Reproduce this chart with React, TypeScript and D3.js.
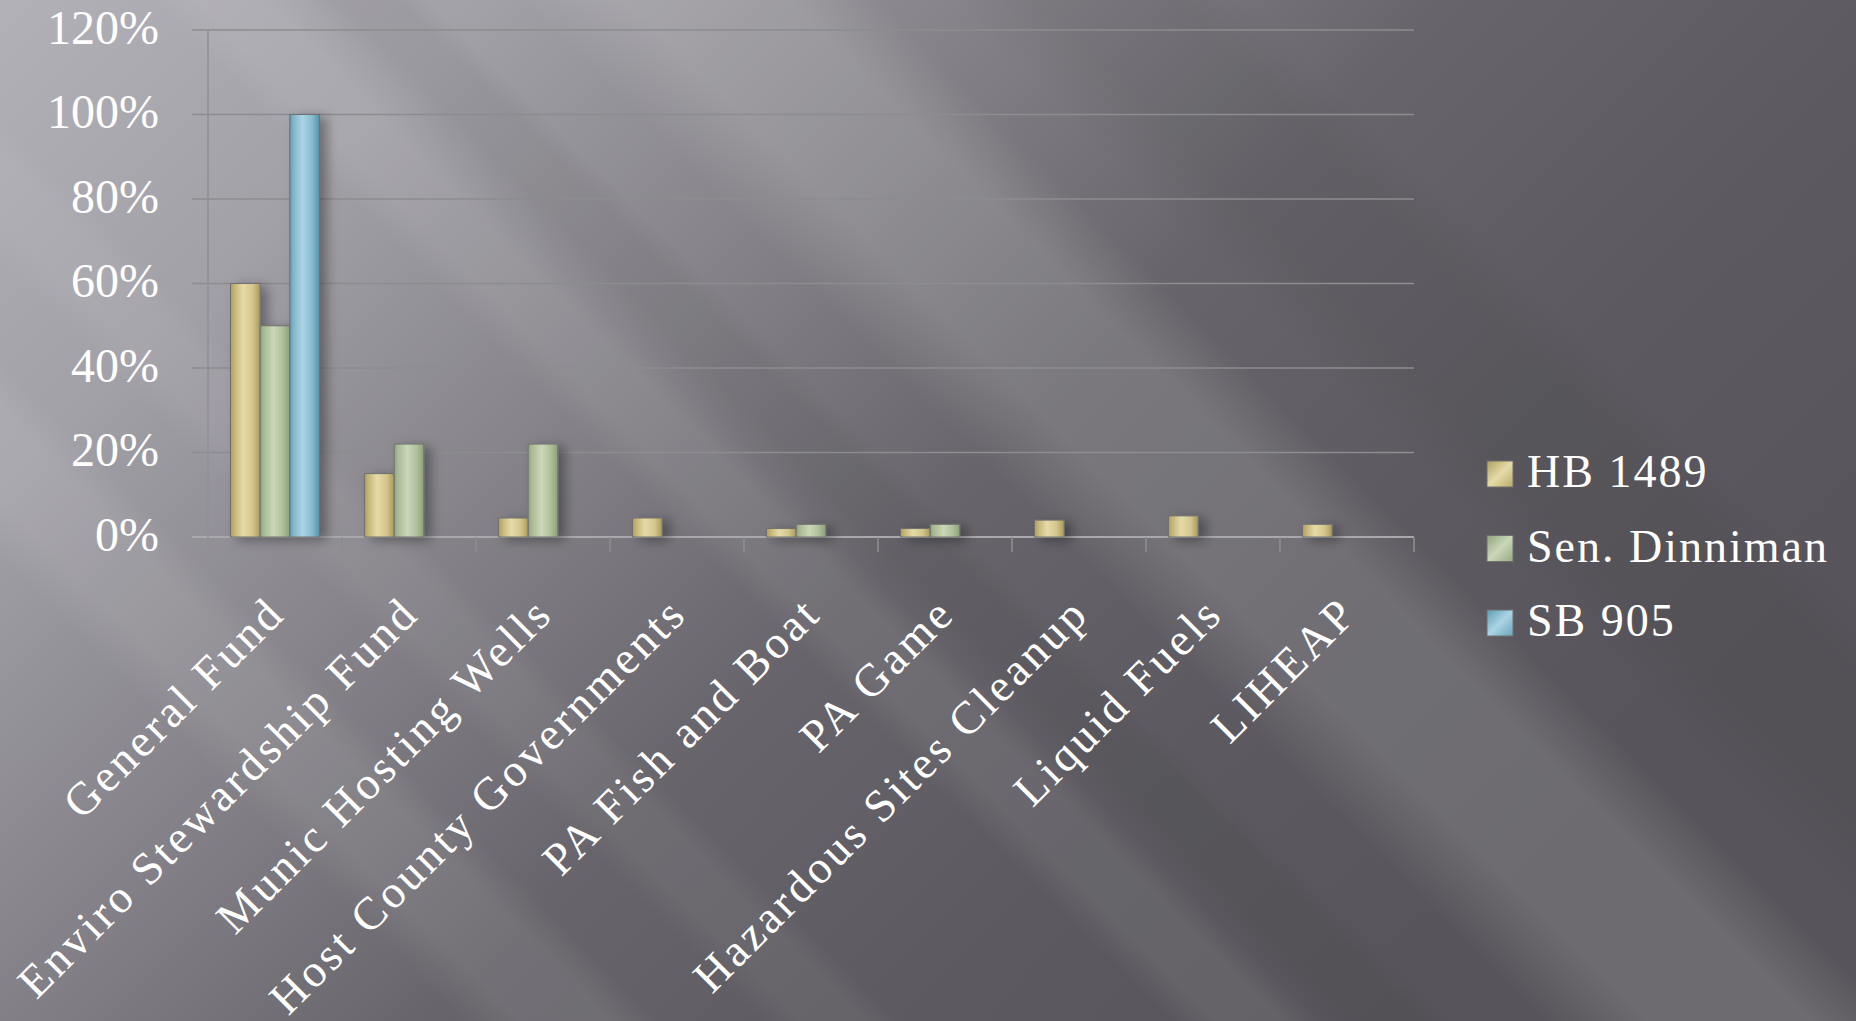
import React from "react";
import * as d3 from "d3";

const categories = [
  "General Fund",
  "Enviro Stewardship Fund",
  "Munic Hosting Wells",
  "Host County Governments",
  "PA Fish and Boat",
  "PA Game",
  "Hazardous Sites Cleanup",
  "Liquid Fuels",
  "LIHEAP",
];
const seriesNames = ["HB 1489", "Sen. Dinniman", "SB 905"];
const hb1489 = [0.6, 0.15, 0.045, 0.045, 0.02, 0.02, 0.04, 0.05, 0.03];
const senDinniman = [0.5, 0.22, 0.22, 0, 0.03, 0.03, 0, 0, 0];
const sb905 = [1.0, 0, 0, 0, 0, 0, 0, 0, 0];
const yTicks = [0, 0.2, 0.4, 0.6, 0.8, 1.0, 1.2];

const seriesValues = [hb1489, senDinniman, sb905];

const W = 1856;
const H = 1021;
const FONT = "'Liberation Serif', 'Times New Roman', serif";

const gradStops: Record<string, [number, string][]> = {
  g0: [[0, "#ad9e5e"], [0.12, "#c3b476"], [0.42, "#e6dba8"], [0.75, "#d3c58c"], [1, "#a99a5a"]],
  g1: [[0, "#8fa47b"], [0.12, "#a8ba94"], [0.45, "#cad7b9"], [0.75, "#b0c19c"], [1, "#8ca177"]],
  g2: [[0, "#5f9bb1"], [0.12, "#80b6ca"], [0.42, "#abd4e4"], [0.75, "#86bcd0"], [1, "#5893aa"]],
};
const legendStops: Record<string, [number, string][]> = {
  l0: [[0, "#ad9e5e"], [0.5, "#e6dba8"], [1, "#b9aa6a"]],
  l1: [[0, "#8fa47b"], [0.5, "#cad7b9"], [1, "#94a980"]],
  l2: [[0, "#5f9bb1"], [0.5, "#abd4e4"], [1, "#6aa4b9"]],
};

// diagonal light bands: [a, b] = x-intercepts at y=0 of the band edges (band runs down-right)
const bands: { a: number; b: number; color: string; op: number }[] = [
  { a: 520, b: 880, color: "#ffffff", op: 0.13 },
  { a: 150, b: 300, color: "#ffffff", op: 0.07 },
  { a: -560, b: -360, color: "#ffffff", op: 0.08 },
  { a: -260, b: -120, color: "#ffffff", op: 0.05 },
  { a: 950, b: 1250, color: "#000000", op: 0.05 },
  { a: 300, b: 430, color: "#000000", op: 0.05 },
];

export default function App() {
  const x0 = d3.scaleBand<string>().domain(categories).range([208, 1414]).padding(0);
  const x1 = d3
    .scaleBand<string>()
    .domain(seriesNames)
    .range([0, x0.bandwidth()])
    .paddingInner(0)
    .paddingOuter(0.76);
  const y = d3.scaleLinear().domain([0, 1.2]).range([537, 30]);
  const fmt = d3.format(".0%");

  return (
    <svg width={W} height={H} style={{ display: "block", position: "absolute", left: 0, top: 0 }}>
      <defs>
        <linearGradient id="bg" x1="0" y1="0" x2="1" y2="0.55">
          <stop offset="0" stopColor="#b3b1b8" />
          <stop offset="0.2" stopColor="#a3a1a8" />
          <stop offset="0.42" stopColor="#838187" />
          <stop offset="0.6" stopColor="#67656b" />
          <stop offset="0.8" stopColor="#5c5a60" />
          <stop offset="1" stopColor="#57555b" />
        </linearGradient>
        {bands.map((bd, i) => {
          const d = bd.b - bd.a;
          return (
            <linearGradient
              key={i}
              id={"band" + i}
              gradientUnits="userSpaceOnUse"
              x1={bd.a}
              y1={0}
              x2={bd.a + d / 2}
              y2={-d / 2}
            >
              <stop offset="0" stopColor={bd.color} stopOpacity={0} />
              <stop offset="0.3" stopColor={bd.color} stopOpacity={bd.op} />
              <stop offset="0.75" stopColor={bd.color} stopOpacity={bd.op} />
              <stop offset="1" stopColor={bd.color} stopOpacity={0} />
            </linearGradient>
          );
        })}
        <filter id="shadow" x="-30%" y="-10%" width="180%" height="130%">
          <feDropShadow dx="7" dy="3" stdDeviation="6" floodColor="#000" floodOpacity="0.35" />
        </filter>
        {Object.entries(gradStops).map(([id, stops]) => (
          <linearGradient key={id} id={id} x1="0" y1="0" x2="1" y2="0">
            {stops.map(([o, c], i) => (
              <stop key={i} offset={o} stopColor={c} />
            ))}
          </linearGradient>
        ))}
        {Object.entries(legendStops).map(([id, stops]) => (
          <linearGradient key={id} id={id} x1="0" y1="0" x2="1" y2="1">
            {stops.map(([o, c], i) => (
              <stop key={i} offset={o} stopColor={c} />
            ))}
          </linearGradient>
        ))}
      </defs>

      <rect x={0} y={0} width={W} height={H} fill="url(#bg)" />
      {bands.map((_, i) => (
        <rect key={i} x={0} y={0} width={W} height={H} fill={`url(#band${i})`} />
      ))}

      {/* gridlines */}
      {yTicks.map((t) => (
        <line
          key={t}
          x1={192}
          x2={1414}
          y1={y(t)}
          y2={y(t)}
          stroke={t === 0 ? "#a9a8ad" : "#8d8c91"}
          strokeWidth={t === 0 ? 2 : 1.6}
        />
      ))}
      {/* y axis */}
      <line x1={208} x2={208} y1={y(1.2)} y2={552} stroke="#929096" strokeWidth={1.6} />
      {/* category ticks */}
      {categories.map((c) => (
        <line
          key={c}
          x1={(x0(c) as number) + x0.bandwidth()}
          x2={(x0(c) as number) + x0.bandwidth()}
          y1={y(0)}
          y2={552}
          stroke="#8d8c91"
          strokeWidth={1.6}
        />
      ))}

      {/* bars */}
      <g filter="url(#shadow)">
        {categories.map((c, ci) =>
          seriesNames.map((s, si) => {
            const v = seriesValues[si][ci];
            if (!v) return null;
            const bx = (x0(c) as number) + (x1(s) as number);
            return (
              <rect
                key={c + s}
                x={bx}
                y={y(v)}
                width={x1.bandwidth()}
                height={y(0) - y(v)}
                fill={`url(#g${si})`}
                stroke="#707070"
                strokeWidth={1}
              />
            );
          })
        )}
      </g>

      {/* y labels */}
      {yTicks.map((t) => (
        <text
          key={t}
          x={159}
          y={y(t) + 13.5}
          textAnchor="end"
          fill="#ffffff"
          fontFamily={FONT}
          fontSize={48}
        >
          {fmt(t)}
        </text>
      ))}

      {/* x labels */}
      {categories.map((c) => {
        const cx = (x0(c) as number) + x0.bandwidth() / 2 + 12;
        const cy = 616;
        return (
          <text
            key={c}
            transform={`translate(${cx},${cy}) rotate(-45)`}
            textAnchor="end"
            fill="#ffffff"
            fontFamily={FONT}
            fontSize={46}
            letterSpacing={3.2}
          >
            {c}
          </text>
        );
      })}

      {/* legend */}
      {seriesNames.map((s, i) => {
        const ly = 461 + i * 74.5;
        return (
          <g key={s}>
            <rect x={1487} y={ly} width={26} height={26} fill={`url(#l${i})`} stroke="#6f6f6f" strokeWidth={1} />
            <text x={1527} y={ly + 26} fill="#ffffff" fontFamily={FONT} fontSize={46} letterSpacing={2}>
              {s}
            </text>
          </g>
        );
      })}
    </svg>
  );
}
